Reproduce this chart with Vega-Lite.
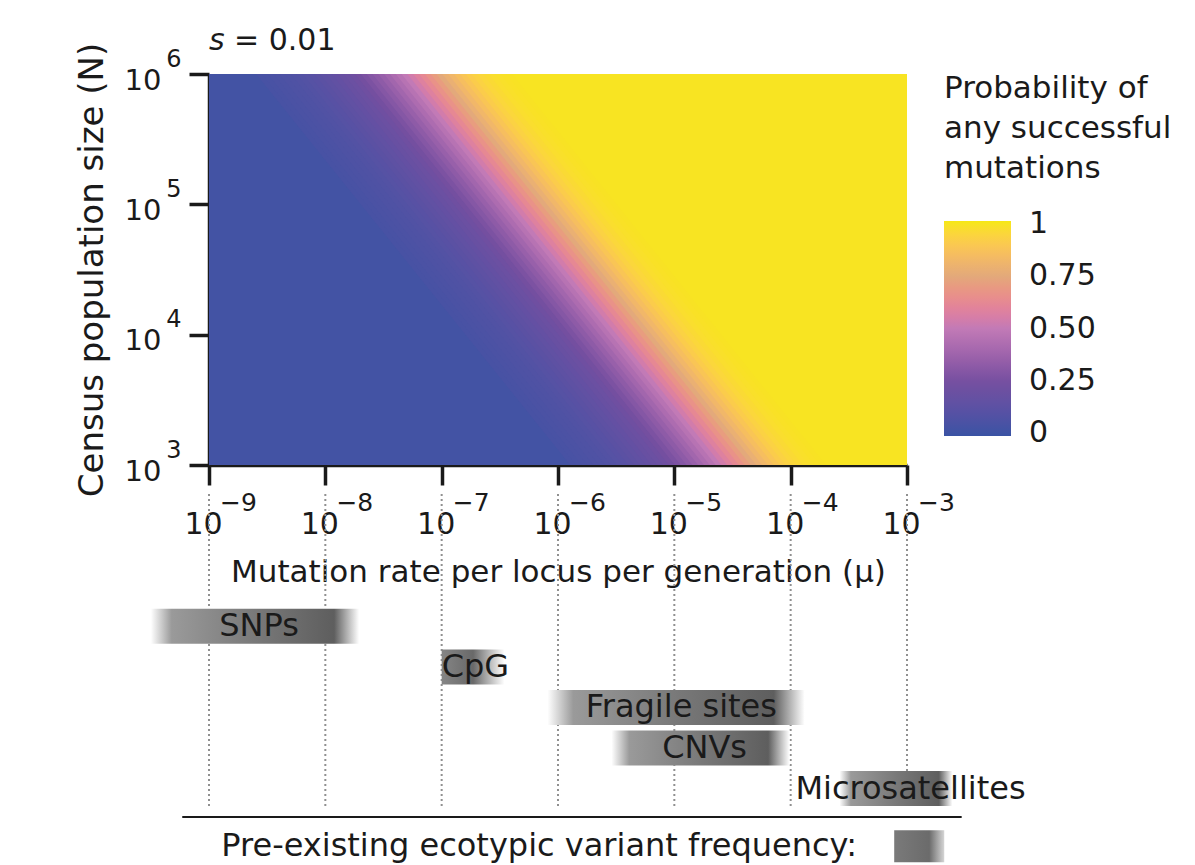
{
  "$schema": "https://vega.github.io/schema/vega-lite/v6.json",
  "background": "white",
  "padding": {"left": 75, "top": 26, "right": 5, "bottom": 0},
  "bounds": "flush",
  "spacing": 20,
  "config": {
    "font": "DejaVu Sans",
    "view": {"stroke": null},
    "axis": {"grid": false, "labelColor": "#1a1a1a", "titleColor": "#1a1a1a", "tickColor": "#1a1a1a", "domainColor": "#1a1a1a"},
    "text": {"font": "DejaVu Sans", "color": "#1a1a1a"}
  },
  "datasets": {
    "classes": [
      {"class": "SNPs", "lo": -9.5, "hi": -7.71, "mid": -8.57, "row": 1},
      {"class": "CpG", "lo": -7.0, "hi": -6.46, "mid": -6.71, "row": 2},
      {"class": "Fragile sites", "lo": -6.09, "hi": -3.88, "mid": -4.94, "row": 3},
      {"class": "CNVs", "lo": -5.54, "hi": -4.01, "mid": -4.74, "row": 4},
      {"class": "Microsatellites", "lo": -3.58, "hi": -2.61, "mid": -2.97, "row": 5}
    ],
    "decades": [{"mu": -9}, {"mu": -8}, {"mu": -7}, {"mu": -6}, {"mu": -5}, {"mu": -4}, {"mu": -3}]
  },
  "resolve": {"scale": {"color": "independent"}},
  "vconcat": [
    {
      "width": 698,
      "height": 391,
      "resolve": {"axis": {"x": "independent", "y": "independent"}},
      "layer": [
        {
          "data": {
            "values": "band,mu,nlo,nhi,p\n-1,-9,-1,12,0.02\n-1,-3,-1,12,0.02\n0,-9,6.45,12,0.038\n0,-3,-0.2167,12,0.038\n1,-9,6.5056,12,0.043\n1,-3,-0.1611,12,0.043\n2,-9,6.5611,12,0.048\n2,-3,-0.1056,12,0.048\n3,-9,6.6167,12,0.054\n3,-3,-0.05,12,0.054\n4,-9,6.6722,12,0.06\n4,-3,0.0056,12,0.06\n5,-9,6.7278,12,0.067\n5,-3,0.0611,12,0.067\n6,-9,6.7833,12,0.075\n6,-3,0.1167,12,0.075\n7,-9,6.8389,12,0.084\n7,-3,0.1722,12,0.084\n8,-9,6.8944,12,0.093\n8,-3,0.2278,12,0.093\n9,-9,6.95,12,0.104\n9,-3,0.2833,12,0.104\n10,-9,7.0056,12,0.116\n10,-3,0.3389,12,0.116\n11,-9,7.0611,12,0.129\n11,-3,0.3944,12,0.129\n12,-9,7.1167,12,0.144\n12,-3,0.45,12,0.144\n13,-9,7.1722,12,0.16\n13,-3,0.5056,12,0.16\n14,-9,7.2278,12,0.177\n14,-3,0.5611,12,0.177\n15,-9,7.2833,12,0.197\n15,-3,0.6167,12,0.197\n16,-9,7.3389,12,0.218\n16,-3,0.6722,12,0.218\n17,-9,7.3944,12,0.241\n17,-3,0.7278,12,0.241\n18,-9,7.45,12,0.266\n18,-3,0.7833,12,0.266\n19,-9,7.5056,12,0.294\n19,-3,0.8389,12,0.294\n20,-9,7.5611,12,0.323\n20,-3,0.8944,12,0.323\n21,-9,7.6167,12,0.354\n21,-3,0.95,12,0.354\n22,-9,7.6722,12,0.388\n22,-3,1.0056,12,0.388\n23,-9,7.7278,12,0.423\n23,-3,1.0611,12,0.423\n24,-9,7.7833,12,0.461\n24,-3,1.1167,12,0.461\n25,-9,7.8389,12,0.5\n25,-3,1.1722,12,0.5\n26,-9,7.8944,12,0.541\n26,-3,1.2278,12,0.541\n27,-9,7.95,12,0.582\n27,-3,1.2833,12,0.582\n28,-9,8.0056,12,0.624\n28,-3,1.3389,12,0.624\n29,-9,8.0611,12,0.667\n29,-3,1.3944,12,0.667\n30,-9,8.1167,12,0.709\n30,-3,1.45,12,0.709\n31,-9,8.1722,12,0.749\n31,-3,1.5056,12,0.749\n32,-9,8.2278,12,0.788\n32,-3,1.5611,12,0.788\n33,-9,8.2833,12,0.825\n33,-3,1.6167,12,0.825\n34,-9,8.3389,12,0.858\n34,-3,1.6722,12,0.858\n35,-9,8.3944,12,0.888\n35,-3,1.7278,12,0.888\n36,-9,8.45,12,0.915\n36,-3,1.7833,12,0.915\n37,-9,8.5056,12,0.937\n37,-3,1.8389,12,0.937\n38,-9,8.5611,12,0.955\n38,-3,1.8944,12,0.955\n39,-9,8.6167,12,0.969\n39,-3,1.95,12,0.969\n40,-9,8.6722,12,0.98\n40,-3,2.0056,12,0.98\n41,-9,8.7278,12,0.987\n41,-3,2.0611,12,0.987\n42,-9,8.7833,12,0.993\n42,-3,2.1167,12,0.993\n43,-9,8.8389,12,0.996\n43,-3,2.1722,12,0.996\n44,-9,8.8944,12,1\n44,-3,2.2278,12,1",
            "format": {"type": "csv", "parse": {"band": "number", "mu": "number", "nlo": "number", "nhi": "number", "p": "number"}}
          },
          "mark": {"type": "area", "orient": "vertical", "clip": true, "interpolate": "linear"},
          "encoding": {
            "x": {
              "field": "mu", "type": "quantitative",
              "scale": {"domain": [-9, -3], "nice": false, "zero": false},
              "axis": {
                "orient": "bottom",
                "values": [-9, -8, -7, -6, -5, -4, -3],
                "labelExpr": "'10'",
                "tickSize": 20, "tickWidth": 3.5, "domainWidth": 3.5,
                "labelFontSize": 30, "labelPadding": 24, "labelOffset": -6,
                "labelFlush": false, "labelOverlap": false, "labelBaseline": "top",
                "title": "Mutation rate per locus per generation (μ)",
                "titleFontSize": 31, "titleFontWeight": "normal", "titlePadding": 18
              }
            },
            "y": {
              "field": "nlo", "type": "quantitative",
              "scale": {"domain": [3, 6], "nice": false, "zero": false},
              "axis": {
                "orient": "left",
                "values": [3, 4, 5, 6],
                "labelExpr": "'10'",
                "tickSize": 20, "tickWidth": 3.5, "domainWidth": 3.5,
                "labelFontSize": 29, "labelPadding": 28, "labelOffset": 6,
                "labelFlush": false, "labelOverlap": false,
                "title": "Census population size (N)",
                "titleFontSize": 34, "titleFontWeight": "normal", "titlePadding": 15
              }
            },
            "y2": {"field": "nhi"},
            "detail": {"field": "band", "type": "nominal"},
            "color": {
              "field": "p", "type": "quantitative",
              "scale": {"domain": [-0.015, 1.015], "range": ["#3953a4", "#744fa0", "#c27ab6", "#e2ab7a", "#f6e814"]},
              "legend": {
                "title": ["Probability of", "any successful", "mutations"],
                "titleFontSize": 31, "titleFontWeight": "normal", "titleLineHeight": 40, "titleLimit": 500,
                "titlePadding": 36, "titleColor": "#1a1a1a", "titleAnchor": "start",
                "gradientLength": 215, "gradientThickness": 67, "gradientStrokeWidth": 0,
                "values": [0, 0.25, 0.5, 0.75, 1],
                "labelExpr": "datum.value === 0 ? '0' : datum.value === 1 ? '1' : format(datum.value, '.2f')",
                "labelFontSize": 30, "labelOffset": 18, "labelColor": "#1a1a1a", "labelOverlap": false,
                "labelBaseline": "middle",
                "offset": 37, "direction": "vertical", "orient": "right"
              }
            }
          }
        },
        {
          "data": {"values": [{}]},
          "mark": {"type": "text", "text": "s", "fontStyle": "italic", "fontSize": 30, "align": "left", "baseline": "alphabetic", "dy": -24},
          "encoding": {
            "x": {
              "datum": -9, "type": "quantitative",
              "scale": {"domain": [-9, -3], "nice": false, "zero": false},
              "axis": {
                "orient": "bottom",
                "values": [-9, -8, -7, -6, -5, -4, -3],
                "labelExpr": "'−' + (-datum.value)",
                "tickSize": 20, "tickColor": "transparent", "domain": false,
                "labelFontSize": 25, "labelPadding": 5, "labelOffset": 29,
                "labelFlush": false, "labelOverlap": false, "labelBaseline": "top",
                "title": null
              }
            },
            "y": {
              "datum": 6, "type": "quantitative",
              "scale": {"domain": [3, 6], "nice": false, "zero": false},
              "axis": {
                "orient": "left",
                "values": [3, 4, 5, 6],
                "labelExpr": "'' + datum.value",
                "tickSize": 20, "tickColor": "transparent", "domain": false,
                "labelFontSize": 24, "labelPadding": 8, "labelOffset": -15,
                "labelFlush": false, "labelOverlap": false,
                "title": null
              }
            }
          }
        },
        {
          "data": {"values": [{}]},
          "mark": {"type": "text", "text": "= 0.01", "fontSize": 30, "align": "left", "baseline": "alphabetic", "dy": -24, "dx": 25},
          "encoding": {
            "x": {"datum": -9, "type": "quantitative", "scale": {"domain": [-9, -3], "nice": false, "zero": false}, "axis": null},
            "y": {"datum": 6, "type": "quantitative", "scale": {"domain": [3, 6], "nice": false, "zero": false}, "axis": null}
          }
        }
      ]
    },
    {
      "width": 698,
      "height": 380,
      "layer": [
        {
          "data": {"name": "decades"},
          "mark": {"type": "rule", "strokeDash": [2, 3], "strokeWidth": 2, "color": "#909090"},
          "encoding": {
            "x": {"field": "mu", "type": "quantitative", "scale": {"domain": [-9, -3], "nice": false, "zero": false}, "axis": null},
            "y": {"datum": -2.26, "type": "quantitative", "scale": {"domain": [-2.36, 6.76], "nice": false, "zero": false, "reverse": true}, "axis": null},
            "y2": {"datum": 5.44}
          }
        },
        {
          "data": {"name": "classes"},
          "transform": [{"filter": "datum['class'] !== 'CpG'"}],
          "mark": {
            "type": "bar", "size": 35,
            "color": {"gradient": "linear", "x1": 0, "y1": 0, "x2": 1, "y2": 0,
              "stops": [
                {"offset": 0, "color": "#ffffff"},
                {"offset": 0.1, "color": "#9a9a9a"},
                {"offset": 0.5, "color": "#797979"},
                {"offset": 0.88, "color": "#5e5e5e"},
                {"offset": 1, "color": "#ffffff"}
              ]}
          },
          "encoding": {
            "x": {"field": "lo", "type": "quantitative", "scale": {"domain": [-9, -3], "nice": false, "zero": false}, "axis": null},
            "x2": {"field": "hi"},
            "y": {"field": "row", "type": "quantitative", "scale": {"domain": [-2.36, 6.76], "nice": false, "zero": false, "reverse": true}, "axis": null}
          }
        },
        {
          "data": {"name": "classes"},
          "transform": [{"filter": "datum['class'] === 'CpG'"}],
          "mark": {
            "type": "bar", "size": 35,
            "color": {"gradient": "linear", "x1": 0, "y1": 0, "x2": 1, "y2": 0,
              "stops": [
                {"offset": 0, "color": "#858585"},
                {"offset": 0.5, "color": "#696969"},
                {"offset": 1, "color": "#ffffff"}
              ]}
          },
          "encoding": {
            "x": {"field": "lo", "type": "quantitative", "scale": {"domain": [-9, -3], "nice": false, "zero": false}, "axis": null},
            "x2": {"field": "hi"},
            "y": {"field": "row", "type": "quantitative", "scale": {"domain": [-2.36, 6.76], "nice": false, "zero": false, "reverse": true}, "axis": null}
          }
        },
        {
          "data": {"name": "classes"},
          "mark": {"type": "text", "fontSize": 32, "baseline": "middle", "align": "center", "color": "#1a1a1a"},
          "encoding": {
            "x": {"field": "mid", "type": "quantitative", "scale": {"domain": [-9, -3], "nice": false, "zero": false}, "axis": null},
            "y": {"field": "row", "type": "quantitative", "scale": {"domain": [-2.36, 6.76], "nice": false, "zero": false, "reverse": true}, "axis": null},
            "text": {"field": "class"}
          }
        },
        {
          "data": {"values": [{}]},
          "mark": {"type": "rule", "strokeWidth": 2, "color": "#1a1a1a"},
          "encoding": {
            "x": {"datum": -9.23, "type": "quantitative", "scale": {"domain": [-9, -3], "nice": false, "zero": false}, "axis": null},
            "x2": {"datum": -2.53},
            "y": {"datum": 5.7, "type": "quantitative", "scale": {"domain": [-2.36, 6.76], "nice": false, "zero": false, "reverse": true}, "axis": null}
          }
        },
        {
          "data": {"values": [{}]},
          "mark": {"type": "text", "text": "Pre-existing ecotypic variant frequency:", "fontSize": 32, "align": "right", "baseline": "middle", "color": "#1a1a1a"},
          "encoding": {
            "x": {"datum": -3.43, "type": "quantitative", "scale": {"domain": [-9, -3], "nice": false, "zero": false}, "axis": null},
            "y": {"datum": 6.42, "type": "quantitative", "scale": {"domain": [-2.36, 6.76], "nice": false, "zero": false, "reverse": true}, "axis": null}
          }
        },
        {
          "data": {"values": [{"item": "Pre-existing ecotypic variant frequency", "lo": -3.11, "hi": -2.68, "row": 6.42}]},
          "mark": {
            "type": "bar", "size": 32,
            "color": {"gradient": "linear", "x1": 0, "y1": 0, "x2": 1, "y2": 0,
              "stops": [
                {"offset": 0, "color": "#7a7a7a"},
                {"offset": 0.7, "color": "#6b6b6b"},
                {"offset": 1, "color": "#d5d5d5"}
              ]}
          },
          "encoding": {
            "x": {"field": "lo", "type": "quantitative", "scale": {"domain": [-9, -3], "nice": false, "zero": false}, "axis": null},
            "x2": {"field": "hi"},
            "y": {"field": "row", "type": "quantitative", "scale": {"domain": [-2.36, 6.76], "nice": false, "zero": false, "reverse": true}, "axis": null}
          }
        }
      ]
    }
  ]
}
